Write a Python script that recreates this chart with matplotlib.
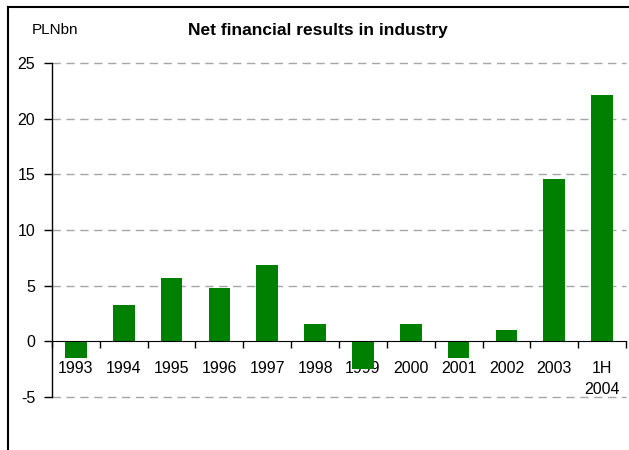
import matplotlib.pyplot as plt
import numpy as np

plt.rcParams['font.family'] = ['Liberation Sans', 'DejaVu Sans']

# Net financial results, PLN bn
years = ['1993', '1994', '1995', '1996', '1997', '1998', '1999',
         '2000', '2001', '2002', '2003', '1H\n2004']
results = [-1.5, 3.3, 5.7, 4.75, 6.9, 1.6, -2.45, 1.6, -1.5, 1.0, 14.6, 22.1]
yticks = [-5, 0, 5, 10, 15, 20, 25]

BAR_COLOR = '#008000'
GRID_COLOR = '#a6a6a6'

fig = plt.figure(figsize=(6.29, 4.5), dpi=100)
ax = fig.add_axes([52 / 629, 1 - 397 / 450, 574 / 629, 334 / 450])

x = np.arange(len(years))
ax.bar(x, results, width=0.45, color=BAR_COLOR, zorder=3)

ax.set_xlim(-0.5, len(years) - 0.5)
ax.set_ylim(-5, 25)

# dashed horizontal grid
for v in yticks:
    if v != 0:
        ax.axhline(v, color=GRID_COLOR, lw=1, ls=(0, (6, 4)), zorder=1,
                   clip_on=False)

ax.spines['top'].set_visible(False)
ax.spines['right'].set_visible(False)
ax.spines['bottom'].set_position(('data', 0))
ax.spines['bottom'].set_zorder(4)
ax.spines['left'].set_linewidth(1)

ax.set_yticks(yticks)
ax.set_yticklabels([str(v) for v in yticks], fontsize=11.5)
ax.tick_params(axis='y', direction='out', length=6, width=1, pad=6)

ax.set_xticks(x)
ax.set_xticklabels(years, fontsize=11.5, linespacing=1.55, va='top')
ax.set_xticks(np.arange(len(years) + 1) - 0.5, minor=True)
ax.tick_params(axis='x', which='major', length=0, pad=14)
ax.tick_params(axis='x', which='minor', direction='out', length=5, width=1)

fig.text(318 / 629, 1 - 30 / 450, 'Net financial results in industry',
         ha='center', va='center', fontsize=12.5, fontweight='bold')
fig.text(32 / 629, 1 - 30 / 450, 'PLNbn', ha='left', va='center', fontsize=11)

# frame lines along top and left edges
fig.add_artist(plt.Line2D([8 / 629, 1], [1 - 7 / 450, 1 - 7 / 450],
                          color='black', lw=1.5, transform=fig.transFigure))
fig.add_artist(plt.Line2D([8 / 629, 8 / 629], [0, 1 - 7 / 450],
                          color='black', lw=1.5, transform=fig.transFigure))

fig.savefig('out.png', dpi=100)
